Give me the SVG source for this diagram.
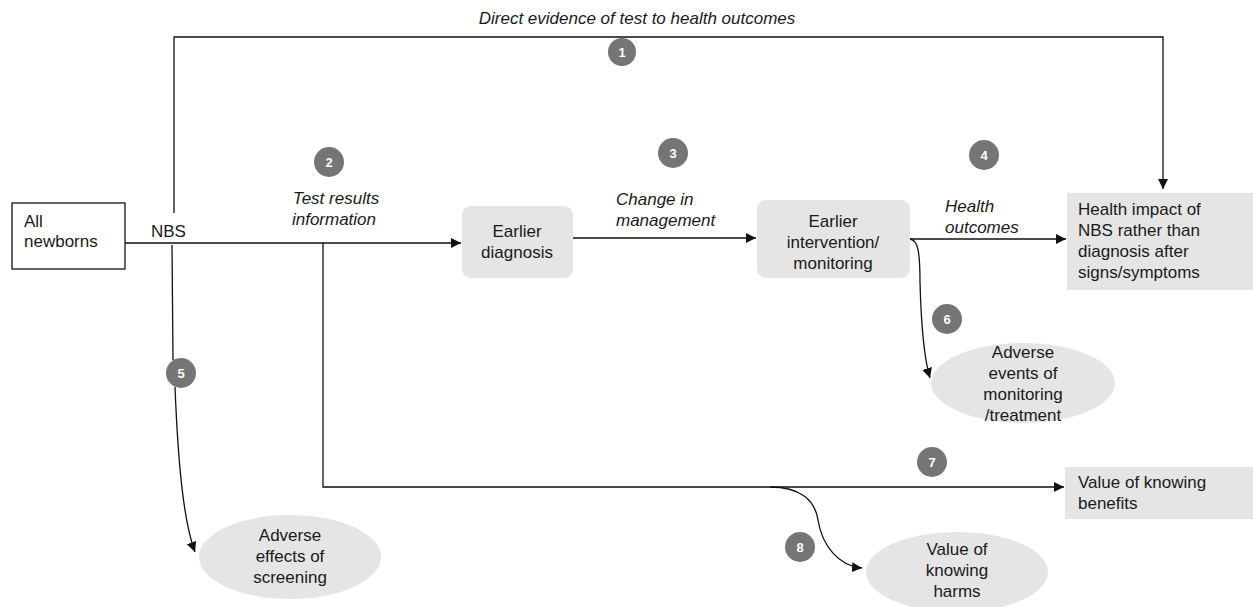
<svg xmlns="http://www.w3.org/2000/svg" width="1253" height="607" viewBox="0 0 1253 607">
<defs>
<marker id="ah" viewBox="0 0 10 10" refX="10" refY="5" markerWidth="10" markerHeight="10" markerUnits="userSpaceOnUse" orient="auto">
<path d="M0,0 L10,5 L0,10 z" fill="#111"/>
</marker>
<style>
text{font-family:"Liberation Sans",Arial,sans-serif;font-size:17px;fill:#1a1a1a}
.it{font-style:italic}
.mid{text-anchor:middle}
.box{fill:#e5e5e5;stroke:none}
.ell{fill:#e5e5e5;stroke:none}
.conn{fill:none;stroke:#111;stroke-width:1.3}
.num circle{fill:#757575}
.num text{fill:#fff;font-weight:bold;font-size:13px;text-anchor:middle}
</style>
</defs>
<rect width="1253" height="607" fill="#fff"/>

<g id="connectors">
<path class="conn" d="M174,213 L174,37 L1163,37 L1163,189" marker-end="url(#ah)"/>
<path class="conn" d="M125,243 L461,243" marker-end="url(#ah)"/>
<path class="conn" d="M573,238 L756,238" marker-end="url(#ah)"/>
<path class="conn" d="M910,239 L1066,239" marker-end="url(#ah)"/>
<path class="conn" d="M172,245 L173,360"/>
<path class="conn" d="M175,387 C178,460 183,520 195,552" marker-end="url(#ah)"/>
<path class="conn" d="M910,239 C918,240 920,252 920,282 C921,320 923,355 930,378" marker-end="url(#ah)"/>
<path class="conn" d="M323,243 L323,487 L1064,487" marker-end="url(#ah)"/>
<path class="conn" d="M770,487 C800,487 815,500 818,520 C822,545 838,566 862,568" marker-end="url(#ah)"/>
</g>

<text class="it mid" x="637" y="24">Direct evidence of test to health outcomes</text>

<g id="all-newborns">
<rect x="12" y="203" width="113" height="66" fill="#fff" stroke="#111" stroke-width="1.3"/>
<text x="24" y="227">All</text>
<text x="24" y="247">newborns</text>
</g>
<text x="151" y="237">NBS</text>

<text class="it mid" x="336" y="204">Test results</text>
<text class="it mid" x="334" y="225">information</text>

<g id="earlier-diagnosis">
<rect class="box" x="462" y="206" width="111" height="72" rx="9"/>
<text class="mid" x="517" y="237">Earlier</text>
<text class="mid" x="517" y="258">diagnosis</text>
</g>

<text class="it" x="616" y="205">Change in</text>
<text class="it" x="616" y="226">management</text>

<g id="earlier-intervention">
<rect class="box" x="757" y="200" width="153" height="78" rx="9"/>
<text class="mid" x="833" y="227">Earlier</text>
<text class="mid" x="833" y="248">intervention/</text>
<text class="mid" x="833" y="269">monitoring</text>
</g>

<text class="it" x="945" y="212">Health</text>
<text class="it" x="945" y="233">outcomes</text>

<g id="health-impact">
<rect class="box" x="1067" y="193" width="186" height="97"/>
<text x="1078" y="215">Health impact of</text>
<text x="1078" y="236">NBS rather than</text>
<text x="1078" y="257">diagnosis after</text>
<text x="1078" y="278">signs/symptoms</text>
</g>

<g id="adverse-events">
<ellipse class="ell" cx="1023" cy="383" rx="92" ry="40"/>
<text class="mid" x="1023" y="358">Adverse</text>
<text class="mid" x="1023" y="379">events of</text>
<text class="mid" x="1023" y="400">monitoring</text>
<text class="mid" x="1023" y="421">/treatment</text>
</g>

<g id="value-benefits">
<rect class="box" x="1065" y="467" width="188" height="52"/>
<text x="1078" y="488">Value of knowing</text>
<text x="1078" y="509">benefits</text>
</g>

<g id="value-harms">
<ellipse class="ell" cx="957" cy="572" rx="91" ry="40"/>
<text class="mid" x="957" y="555">Value of</text>
<text class="mid" x="957" y="576">knowing</text>
<text class="mid" x="957" y="597">harms</text>
</g>

<g id="adverse-effects">
<ellipse class="ell" cx="290" cy="557" rx="91" ry="42"/>
<text class="mid" x="290" y="541">Adverse</text>
<text class="mid" x="290" y="562">effects of</text>
<text class="mid" x="290" y="583">screening</text>
</g>

<g id="n1" class="num"><circle cx="622" cy="52" r="14"/><text x="622" y="57">1</text></g>
<g id="n2" class="num"><circle cx="329" cy="162" r="15"/><text x="329" y="167">2</text></g>
<g id="n3" class="num"><circle cx="673" cy="153" r="15"/><text x="673" y="158">3</text></g>
<g id="n4" class="num"><circle cx="984" cy="155" r="15"/><text x="984" y="160">4</text></g>
<g id="n5" class="num"><circle cx="181" cy="373" r="15"/><text x="181" y="378">5</text></g>
<g id="n6" class="num"><circle cx="947" cy="319" r="15"/><text x="947" y="324">6</text></g>
<g id="n7" class="num"><circle cx="932" cy="462" r="15"/><text x="932" y="467">7</text></g>
<g id="n8" class="num"><circle cx="800" cy="547" r="15"/><text x="800" y="552">8</text></g>
</svg>
